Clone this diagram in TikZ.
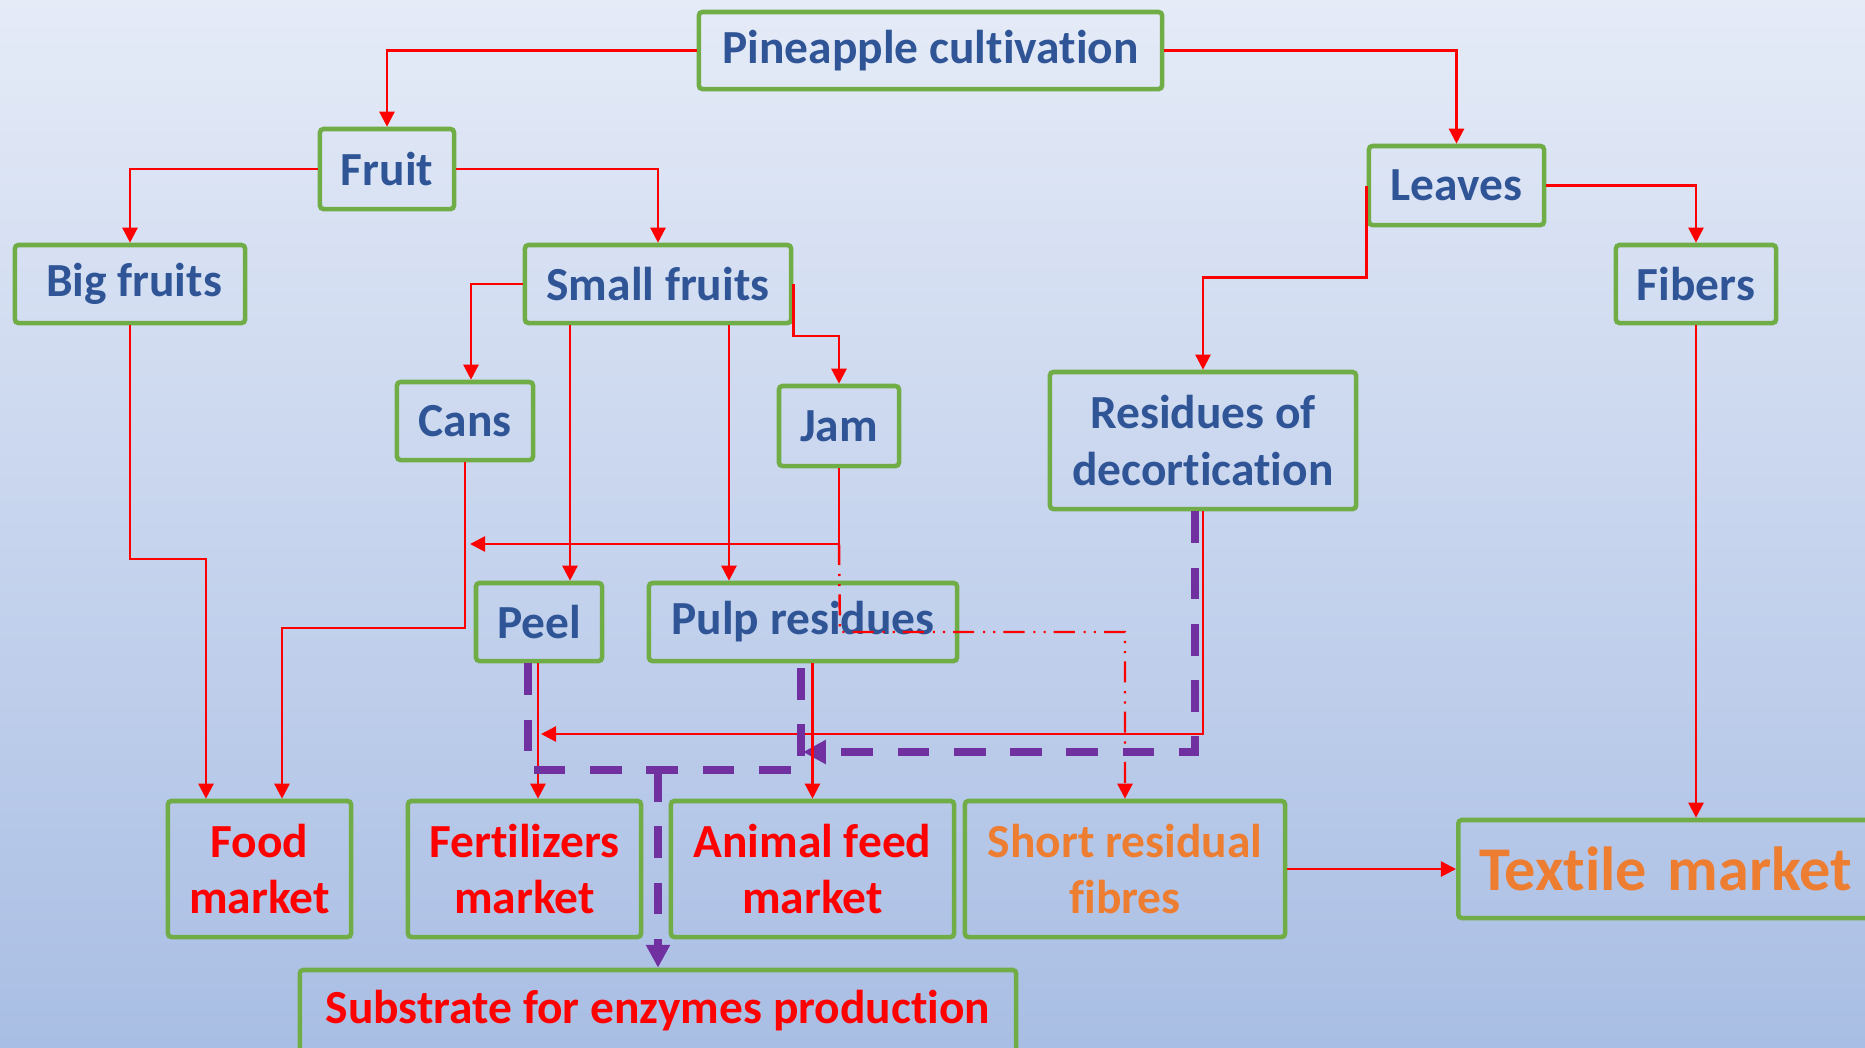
\documentclass[tikz,border=0pt]{standalone}
\usepackage{fontspec}
\setmainfont{Carlito}[RawFeature={-liga;-clig;-dlig;-calt}]
\usetikzlibrary{arrows.meta}

\definecolor{bgtop}{RGB}{229,235,247}
\definecolor{bgbot}{RGB}{169,190,228}
\definecolor{boxgreen}{RGB}{112,173,71}
\definecolor{txtblue}{RGB}{47,85,151}
\definecolor{mkred}{RGB}{255,0,0}
\definecolor{mkorange}{RGB}{237,125,49}
\definecolor{flowpurple}{RGB}{112,48,160}

% t and i kept apart
\newcommand{\ti}{t\kern0pt i}

\tikzset{
  box/.style={draw=boxgreen, line width=1.3pt, rounded corners=1pt, align=center,
    inner sep=0pt, text=txtblue, font=\bfseries\fontsize{13.5}{16.2}\selectfont},
  market/.style={box, text=mkred},
  fibre/.style={box, text=mkorange},
  arr/.style={mkred, line width=0.7pt, -{Triangle[length=4.3pt,width=4.3pt]}},
  dashdot/.style={mkred, line width=0.7pt,
    dash pattern=on 6pt off 2.5pt on 0.6pt off 2.3pt on 0.6pt off 2.3pt},
  pdash/.style={flowpurple, line width=2.1pt, dash pattern=on 9pt off 7pt},
  parr/.style={-{Triangle[length=6.5pt,width=6.5pt]}}
}

\begin{document}
\begin{tikzpicture}[x=0.01cm, y=-0.01cm]
        \useasboundingbox (0,0) rectangle (1865,1047);
        \clip (0,0) rectangle (1865,1047);
        % Background
        \shade[top color=bgtop, bottom color=bgbot] (0,0) rectangle (1865,1047);

        % Plant
        \node[box, minimum width=4.63cm, minimum height=0.77cm] (pine) at (930.5,50.5) {Pineapple cul\ti vation};
        \node[box, minimum width=1.34cm, minimum height=0.80cm] (fruit) at (387,169) {Fruit};
        \node[box, minimum width=1.75cm, minimum height=0.79cm] (leaves) at (1456.5,185.5) {Leaves};

        % Fruit side
        \node[box, minimum width=2.30cm, minimum height=0.78cm] (bigf) at (130,284) {\hspace{0.08cm}Big fruits};
        \node[box, minimum width=2.66cm, minimum height=0.78cm] (smallf) at (658,284) {Small fruits};
        \node[box, minimum width=1.36cm, minimum height=0.78cm] (cans) at (465,421) {Cans};
        \node[box, minimum width=1.20cm, minimum height=0.80cm] (jam) at (839,426) {Jam};
        \node[box, minimum width=1.26cm, minimum height=0.78cm] (peel) at (539,622) {Peel};
        \node[box, minimum width=3.08cm, minimum height=0.78cm] (pulp) at (803,622) {Pulp residues};

        % Leaf side
        \node[box, minimum width=1.60cm, minimum height=0.78cm] (fibers) at (1696,284) {Fibers};
        \node[box, minimum width=3.06cm, minimum height=1.37cm] (resid) at (1203,440.5) {Residues of\\decor\ti cation};

        % Markets
        \node[market, minimum width=1.83cm, minimum height=1.36cm] (food) at (259.5,869) {Food\\market};
        \node[market, minimum width=2.33cm, minimum height=1.36cm] (fert) at (524.5,869) {Fertilizers\\market};
        \node[market, minimum width=2.83cm, minimum height=1.36cm] (feed) at (812.5,869) {Animal feed\\market};
        \node[fibre, minimum width=3.20cm, minimum height=1.36cm] (short) at (1125,869) {Short residual\\fibres};
        \node[fibre, anchor=west, text width=4.2cm, align=left, inner xsep=0.21cm, minimum height=0.98cm,
          font=\bfseries\fontsize{17.7}{20}\selectfont] (textile) at (1456,869) {Tex\ti le market};
        \node[market, minimum width=7.16cm, minimum height=0.82cm] (substr) at (658,1011) {Substrate for enzymes produc\ti on};

        % Free ends
        \coordinate (jamend) at (470,544);
        \coordinate (ddturn) at (840,632);
        \coordinate (residend) at (541,734);
        \coordinate (purpend) at (803,752);

        % Main branches
        \draw[arr] (pine.west) -| (fruit.north);
        \draw[arr] (pine.east) -| (leaves.north);
        \draw[arr] (fruit.west) -| (bigf.north);
        \draw[arr] (fruit.east) -| (smallf.north);
        \draw[arr] (leaves.east) -| (fibers.north);
        \draw[arr] (leaves.west) -- ++(0,92) -| (resid.north);

        % Small fruits
        \draw[arr] (smallf.west) -| ([xshift=0.06cm]cans.north);
        \draw[arr] (smallf.east) -- ++(0,52) -| (jam.north);
        \draw[arr] (smallf.south -| 570,0) -- (peel.north -| 570,0);
        \draw[arr] (smallf.south -| 729,0) -- (pulp.north -| 729,0);
        \draw[arr] (jam.south) |- (jamend);
        \draw[dashdot, -{Triangle[length=4.3pt,width=4.3pt]}] (jam.south |- jamend) -- (ddturn) -| (short.north);

        % To food market
        \draw[arr] (bigf.south) -- (bigf.south |- 0,559) -| (food.north -| 206,0);
        \draw[arr] (cans.south) -- (cans.south |- 0,628) -| (food.north -| 282,0);

        % Residues
        \draw[arr] (resid.south) |- (residend);
        \draw[pdash, parr] (resid.south -| 1195,0) |- (purpend);
        \draw[arr] (peel.south -| 538,0) -- (fert.north -| 538,0);
        \draw[arr] (pulp.south -| feed.north) -- (feed.north);

        % Enzymes
        \draw[pdash] (peel.south -| 528,0) -- (528,770) -| (pulp.south -| 801,0);
        \draw[pdash, parr] (substr.north |- 0,770) -- (substr.north);

        % Textile
        \draw[arr] (fibers.south) -- (fibers.south |- textile.north);
        \draw[arr] (short.east) -- (short.east -| textile.west);
    \end{tikzpicture}
\end{document}
